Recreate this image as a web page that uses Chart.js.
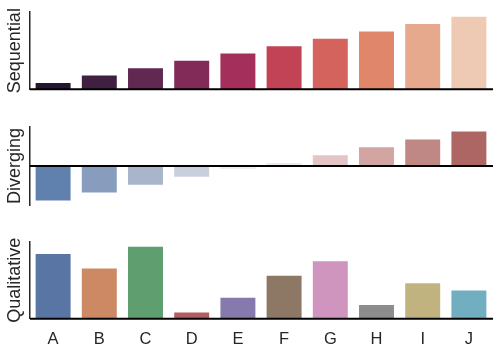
<!DOCTYPE html>
<html>
<head>
<meta charset="utf-8">
<script src="https://cdn.jsdelivr.net/npm/chart.js@4"></script>
<style>
  html, body { margin: 0; padding: 0; background: #ffffff; }
  #wrap { position: relative; width: 500px; height: 355px; overflow: hidden; background: #fff; }
  canvas { position: absolute; left: 0; }
</style>
</head>
<body>
<div id="wrap">
  <canvas id="c1" width="500" height="100" style="top:0px"></canvas>
  <canvas id="c2" width="500" height="100" style="top:115px"></canvas>
  <canvas id="c3" width="500" height="125" style="top:230px"></canvas>
</div>
<script>
const categories = ["A","B","C","D","E","F","G","H","I","J"];
const sequentialValues = [1, 2, 3, 4, 5, 6, 7, 8, 9, 10];
const divergingValues = [-4.5, -3.5, -2.5, -1.5, -0.5, 0.5, 1.5, 2.5, 3.5, 4.5];
const qualitativeValues = [9, 7, 10, 1, 3, 6, 8, 2, 5, 4];
const axisLabels = ["Sequential", "Diverging", "Qualitative"];

const seqColors = ['#23162d','#402040','#612851','#822a58','#a32f5a','#c24355','#d5635d','#e0866a','#e6a98d','#eecab5'];
const divColors = ['#6081ad','#889dbd','#a8b5cb','#cacfdc','#ecedf1','#f1e9e9','#e3c5c5','#d3a5a2','#c08885','#ae6664'];
const qualColors = ['#5975a4','#cc8963','#5f9e6e','#b55d60','#857aab','#8d7866','#d095bf','#8c8c8c','#c1b37f','#71aec0'];

const FONT = "'Liberation Sans', Arial, sans-serif";
const TEXT = '#262626';

const baselinePlugin = {
  id: 'baseline',
  afterDatasetsDraw(chart) {
    const y = chart.scales.y.getPixelForValue(0);
    const {left, right} = chart.chartArea;
    const ctx = chart.ctx;
    ctx.save();
    ctx.strokeStyle = '#000000';
    ctx.lineWidth = 2;
    ctx.beginPath();
    ctx.moveTo(left, y);
    ctx.lineTo(right + 1, y);
    ctx.stroke();
    ctx.restore();
  }
};

function makeChart(id, values, colors, label, yMin, yMax, showX, padding, xHeight) {
  return new Chart(document.getElementById(id), {
    type: 'bar',
    data: {
      labels: categories,
      datasets: [{
        data: values,
        backgroundColor: colors,
        borderColor: '#ffffff',
        borderWidth: 1,
        barPercentage: 0.8,
        categoryPercentage: 1.0
      }]
    },
    options: {
      responsive: false,
      animation: false,
      events: [],
      layout: { padding: padding },
      plugins: { legend: { display: false }, tooltip: { enabled: false } },
      scales: {
        x: {
          display: showX,
          grid: { display: false, drawTicks: false },
          border: { display: false },
          ticks: { color: TEXT, font: { family: FONT, size: 16.5 }, padding: 11, maxRotation: 0 },
          afterFit(scale) { if (xHeight) scale.height = xHeight; }
        },
        y: {
          min: yMin,
          max: yMax,
          grid: { display: false, drawTicks: false },
          border: { display: true, color: TEXT, width: 1.5 },
          ticks: { display: false },
          title: { display: true, text: label, color: TEXT, font: { family: FONT, size: 18 }, padding: { top: 4, bottom: 0 } },
          afterFit(scale) { scale.width = 30; }
        }
      }
    },
    plugins: [baselinePlugin]
  });
}

makeChart('c1', sequentialValues, seqColors, axisLabels[0], 0, 10.5, false, {top: 12, right: 8, bottom: 10.7, left: 0}, 0);
makeChart('c2', divergingValues, divColors, axisLabels[1], -4.95, 4.95, false, {top: 12, right: 8, bottom: 10, left: 0}, 0);
makeChart('c3', qualitativeValues, qualColors, axisLabels[2], 0, 10.5, true, {top: 12, right: 8, bottom: 0, left: 0}, 36.3);
</script>
</body>
</html>
